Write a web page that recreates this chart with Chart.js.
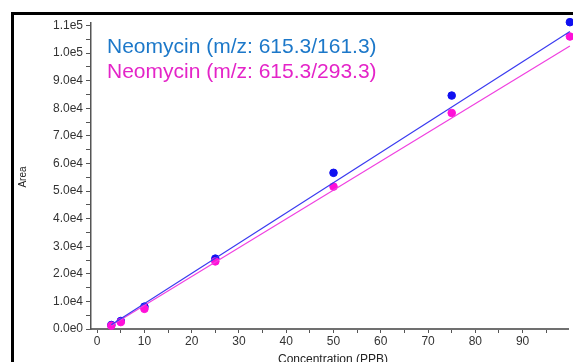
<!DOCTYPE html>
<html>
<head>
<meta charset="utf-8">
<script src="https://cdn.jsdelivr.net/npm/chart.js@4"></script>
<style>
  html, body { margin: 0; padding: 0; background: #fff; overflow: hidden; }
  #wrap { position: relative; width: 573px; height: 362px; }
  #frame {
    position: absolute; left: 11px; top: 12px; right: -10px; bottom: -10px;
    border-left: 3px solid #000; border-top: 3px solid #000; pointer-events: none;
  }
</style>
</head>
<body>
<div id="wrap">
  <canvas id="chart" width="573" height="362"></canvas>
  <div id="frame"></div>
</div>
<script>
const concentration = [3, 5, 10, 25, 50, 75, 100];
const area161 = [1450, 2900, 8100, 25500, 56600, 84600, 111200];
const area293 = [1200, 2500, 7300, 24500, 51600, 78300, 106000];

const fitX = [3, 100];
const fit161 = [1500, 107800];
const fit293 = [1300, 102600];

const xTicks = [0, 5, 10, 15, 20, 25, 30, 35, 40, 45, 50, 55, 60, 65, 70, 75, 80, 85, 90, 95];
const yTicks = [0, 5000, 10000, 15000, 20000, 25000, 30000, 35000, 40000, 45000, 50000,
  55000, 60000, 65000, 70000, 75000, 80000, 85000, 90000, 95000, 100000, 105000, 110000];

const legendLines = [
  { text: "Neomycin (m/z: 615.3/161.3)", color: "#1c78c9" },
  { text: "Neomycin (m/z: 615.3/293.3)", color: "#e424c8" },
];
const xTitle = "Concentration (PPB)";
const yTitle = "Area";

const toPoints = (xs, ys) => xs.map((x, i) => ({ x, y: ys[i] }));

const formatArea = (value) => {
  if (value === 0) {
    return "0.0e0";
  }
  const exp = Math.floor(Math.log10(Math.abs(value)));
  const mant = value / Math.pow(10, exp);
  return `${mant.toFixed(1)}e${exp}`;
};

const labelsPlugin = {
  id: "labels",
  afterDraw(chart) {
    const ctx = chart.ctx;
    ctx.save();
    ctx.font = "21px Arial, 'Liberation Sans', sans-serif";
    ctx.textBaseline = "alphabetic";
    ctx.textAlign = "left";
    legendLines.forEach((line, i) => {
      ctx.fillStyle = line.color;
      ctx.fillText(line.text, 107, 53 + i * 25);
    });

    ctx.fillStyle = "#222";
    ctx.font = "12px Arial, 'Liberation Sans', sans-serif";
    ctx.textAlign = "center";
    ctx.fillText(xTitle, 333, 363);

    ctx.font = "10px Arial, 'Liberation Sans', sans-serif";
    ctx.translate(26, 177);
    ctx.rotate(-Math.PI / 2);
    ctx.fillText(yTitle, 0, 0);
    ctx.restore();
  },
};

const useTicks = (values) => (scale) => {
  scale.ticks = values.map((value) => ({ value }));
};

new Chart(document.getElementById("chart"), {
  type: "scatter",
  plugins: [labelsPlugin],
  data: {
    datasets: [
      {
        label: "fit 161",
        type: "line",
        data: toPoints(fitX, fit161),
        borderColor: "#3a3af0",
        borderWidth: 1.2,
        pointRadius: 0,
        fill: false,
        clip: false,
      },
      {
        label: "fit 293",
        type: "line",
        data: toPoints(fitX, fit293),
        borderColor: "#f040e0",
        borderWidth: 1.2,
        pointRadius: 0,
        fill: false,
        clip: false,
      },
      {
        label: "293.3",
        data: toPoints(concentration, area293),
        backgroundColor: "#ff10d8",
        borderColor: "#ff10d8",
        pointRadius: 3.8,
        clip: false,
      },
      {
        label: "161.3",
        data: toPoints(concentration, area161),
        backgroundColor: "#1010f0",
        borderColor: "#1010f0",
        pointRadius: 3.8,
        clip: false,
      },
    ],
  },
  options: {
    responsive: false,
    animation: false,
    layout: { padding: { top: 23, right: 0, bottom: 0, left: 0 } },
    plugins: {
      legend: { display: false },
      tooltip: { enabled: false },
    },
    scales: {
      x: {
        type: "linear",
        min: -1.3,
        max: 99.6,
        afterBuildTicks: useTicks(xTicks),
        afterFit(scale) {
          scale.height = 33;
        },
        border: { display: true, color: "#707070", width: 2 },
        grid: {
          drawOnChartArea: false,
          drawTicks: true,
          tickLength: 4,
          tickColor: "#555",
        },
        ticks: {
          autoSkip: false,
          maxRotation: 0,
          padding: 1,
          color: "#333",
          font: { family: "Arial, 'Liberation Sans', sans-serif", size: 12 },
          callback: (value) => (value % 10 === 0 ? String(value) : ""),
        },
      },
      y: {
        type: "linear",
        min: 0,
        max: 110900,
        afterBuildTicks: useTicks(yTicks),
        afterFit(scale) {
          scale.width = 91;
        },
        border: { display: true, color: "#555", width: 1.5 },
        grid: {
          drawOnChartArea: false,
          drawTicks: true,
          tickLength: 5,
          tickColor: "#555",
        },
        ticks: {
          autoSkip: false,
          padding: 3,
          color: "#333",
          font: { family: "Arial, 'Liberation Sans', sans-serif", size: 12 },
          callback: (value) => (value % 10000 === 0 ? formatArea(value) : ""),
        },
      },
    },
  },
});
</script>
</body>
</html>
